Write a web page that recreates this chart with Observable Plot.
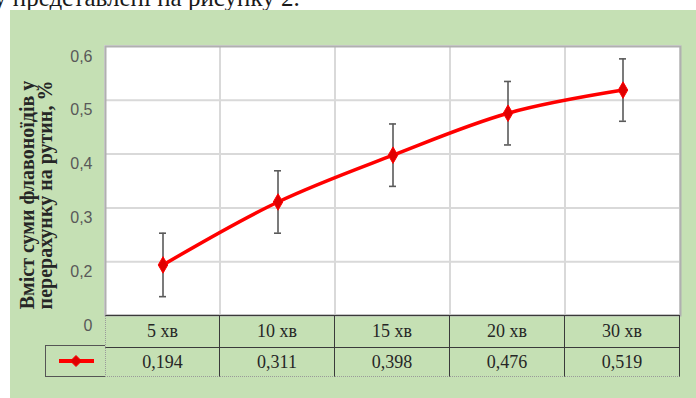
<!DOCTYPE html>
<html>
<head>
<meta charset="utf-8">
<script src="https://cdn.jsdelivr.net/npm/d3@7"></script>
<script src="https://cdn.jsdelivr.net/npm/@observablehq/plot@0.6"></script>
<style>
  body { margin: 0; width: 696px; height: 398px; overflow: hidden; position: relative; background: #fff; font-family: "Liberation Serif", "Times New Roman", serif; }
  #lead { position: absolute; left: -6px; top: -15px; font-size: 25px; line-height: 25px; color: #1a1a1a; white-space: nowrap; }
  #panel { position: absolute; left: 10px; top: 10px; width: 686px; height: 388px; background: #c5e0b4; }
  #chart { position: absolute; left: 0; top: 0; }
  .cell { position: absolute; box-sizing: border-box; display: flex; align-items: center; justify-content: center; font-size: 18px; color: #262626; }
</style>
</head>
<body>
<div id="lead">у представлені на рисунку 2.</div>
<div id="panel">
  <div id="chart"></div>
  <div id="table"></div>
</div>
<script>
// Extraction time and total flavonoid content (as rutin, %)
const times = ["5 хв", "10 хв", "15 хв", "20 хв", "30 хв"];
const values = [0.194, 0.311, 0.398, 0.476, 0.519];
const errors = [0.059, 0.058, 0.058, 0.059, 0.058];

const yTicks = [0.1, 0.2, 0.3, 0.4, 0.5, 0.6];
const yTickLabels = ["0", "0,2", "0,3", "0,4", "0,5", "0,6"];
const yTitle = ["Вміст суми флавоноїдів у", "перерахунку на рутин, %"];

const data = times.map((t, i) => ({time: t, value: values[i], err: errors[i]}));
const fmt = v => d3.format(".3f")(v).replace(".", ",");

const W = 686, mL = 95, mR = 16, mT = 36, frameBottom = 305;

const chart = Plot.plot({
  width: W,
  height: 330,
  marginLeft: mL,
  marginRight: mR,
  marginTop: mT,
  marginBottom: 330 - frameBottom,
  style: {background: "transparent", overflow: "visible"},
  x: {type: "band", domain: times, padding: 0, axis: null},
  y: {domain: [0.1, 0.6], axis: null},
  marks: [
    Plot.frame({fill: "#ffffff"}),
    Plot.ruleY(yTicks.slice(1, -1), {stroke: "#d9d9d9", strokeWidth: 2}),
    Plot.cell(times, {x: d => d, fill: "none", stroke: "#d9d9d9", strokeWidth: 2}),
    Plot.frame({stroke: "#b0b0b0", strokeWidth: 2}),
    Plot.axisY(yTicks, {
      label: null, tickSize: 0, tickPadding: 13, dy: 10,
      tickFormat: d => yTickLabels[yTicks.indexOf(d)],
      fontSize: 16, fontFamily: "Liberation Sans, Arial, sans-serif", fill: "#595959"
    }),
    Plot.text([yTitle.join("\n")], {
      frameAnchor: "left", rotate: -90, dx: -68, dy: 14,
      textAnchor: "middle", lineAnchor: "middle", lineHeight: 0.86,
      fontSize: 20, fontWeight: "bold", fontFamily: "Liberation Serif, serif", fill: "#262626",
      ariaLabel: "y-title"
    }),
    Plot.ruleX(data, {x: "time", y1: d => d.value - d.err, y2: d => d.value + d.err, stroke: "#5a5a5a", strokeWidth: 1.6}),
    Plot.tickY(data, {x: "time", y: d => d.value - d.err, stroke: "#5a5a5a", strokeWidth: 1.6, inset: 54}),
    Plot.tickY(data, {x: "time", y: d => d.value + d.err, stroke: "#5a5a5a", strokeWidth: 1.6, inset: 54}),
    Plot.line(data, {x: "time", y: "value", stroke: "#ff0000", strokeWidth: 3.5, curve: "catmull-rom"}),
    Plot.dot(data, {x: "time", y: "value", symbol: "diamond", r: 5, fill: "#e00000", stroke: "#ff0000", strokeWidth: 1})
  ]
});
// Slightly open tracking on the vertical title
chart.querySelectorAll('g[aria-label="y-title"] text').forEach(t => t.setAttribute("letter-spacing", "0.6"));
document.getElementById("chart").append(chart);

// Data table under the plot, aligned with the x bands
const x = chart.scale("x");
const step = x.bandwidth;
const table = document.getElementById("table");
const rowTop = [frameBottom, 337], rowH = [32, 30];
const dark = "1.6px solid #3a3a3a", dotted = "1.5px dotted #9a9a9a";

times.forEach((t, i) => {
  const left = x.apply(t);
  [t, fmt(values[i])].forEach((txt, r) => {
    const c = document.createElement("div");
    c.className = "cell";
    c.textContent = txt;
    Object.assign(c.style, {
      left: left + "px", top: rowTop[r] + "px", width: step + "px", height: rowH[r] + "px",
      borderTop: dark, borderRight: dark,
      borderBottom: r === 1 ? dotted : "none",
      borderLeft: i === 0 ? dotted : "none"
    });
    table.append(c);
  });
});

// Legend key cell: red line with a diamond marker
const key = document.createElement("div");
key.className = "cell";
Object.assign(key.style, {left: "35px", top: "335px", width: (mL - 35) + "px", height: "32px", border: "1.5px solid #555", borderRight: "none"});
key.innerHTML = '<svg width="44" height="14"><line x1="5" y1="7" x2="40" y2="7" stroke="#ff0000" stroke-width="4"/><path d="M22,1.5 L27.5,7 L22,12.5 L16.5,7 Z" fill="#e00000" stroke="#ff0000"/></svg>';
table.append(key);
</script>
</body>
</html>
